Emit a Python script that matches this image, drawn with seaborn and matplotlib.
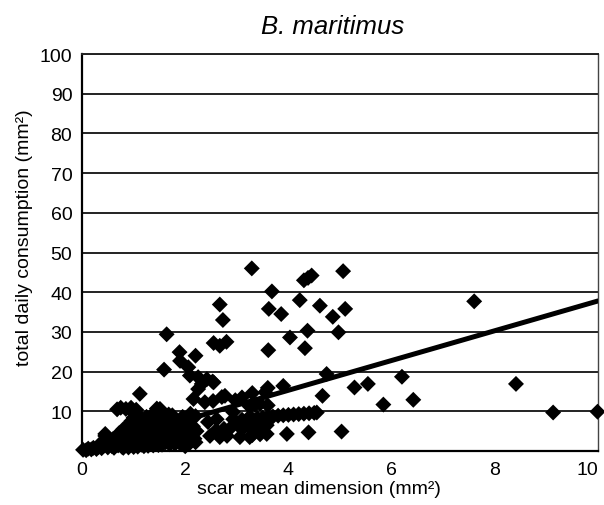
import numpy as np
import pandas as pd
import matplotlib
matplotlib.use("Agg")
import matplotlib.pyplot as plt
import seaborn as sns

# scar mean dimension (mm2) vs total daily consumption (mm2)
scar_sparse = [3.29, 3.68, 3.62, 3.86, 2.67, 2.73, 1.64, 2.55, 2.67, 2.80, 1.89, 1.90,
               2.20, 1.59, 2.06, 2.09, 2.25, 2.32, 2.53, 1.12, 3.61, 4.03, 4.22, 4.37,
               4.32, 4.30, 4.38, 4.45, 4.61, 4.86, 4.97, 5.06, 5.10, 4.74, 4.66, 5.03,
               4.39, 3.97, 3.58, 3.90, 3.55, 7.60, 8.41, 9.13, 9.99, 6.20, 6.42, 5.84,
               5.28, 5.54, 2.16, 2.25, 2.42, 2.55, 2.38, 2.54, 2.71, 2.77, 2.97, 3.10,
               3.30, 3.60, 1.51, 3.25, 3.35, 3.45]
cons_sparse = [46.0, 40.2, 35.8, 34.5, 36.9, 33.0, 29.4, 27.2, 26.5, 27.5, 24.9, 22.7,
               24.0, 20.5, 21.1, 19.0, 18.6, 16.9, 17.5, 14.4, 25.4, 28.6, 38.0, 30.3,
               25.9, 43.0, 43.6, 44.2, 36.6, 33.8, 29.9, 45.3, 35.8, 19.4, 13.9, 4.9,
               4.7, 4.3, 4.3, 16.4, 14.8, 37.7, 16.9, 9.7, 9.9, 18.7, 12.9, 11.7,
               16.0, 16.9, 13.1, 15.6, 18.1, 17.3, 12.3, 12.6, 13.6, 13.9, 12.8, 13.5,
               14.6, 15.9, 10.6, 11.2, 11.6, 11.9]

# the dense cluster close to the origin
scar_dense = [0.02, 0.08, 0.12, 0.18, 0.22, 0.28, 0.32, 0.38, 0.42, 0.45, 0.50, 0.50,
              0.55, 0.58, 0.60, 0.62, 0.65, 0.68, 0.70, 0.72, 0.75, 0.78, 0.80, 0.80,
              0.80, 0.85, 0.85, 0.90, 0.90, 0.90, 0.92, 0.95, 0.95, 0.98, 1.00, 1.00,
              1.00, 1.00, 1.02, 1.05, 1.05, 1.08, 1.10, 1.10, 1.10, 1.12, 1.15, 1.15,
              1.18, 1.20, 1.20, 1.20, 1.22, 1.25, 1.25, 1.28, 1.30, 1.30, 1.30, 1.32,
              1.35, 1.38, 1.40, 1.40, 1.40, 1.42, 1.45, 1.48, 1.50, 1.50, 1.50, 1.52,
              1.55, 1.58, 1.60, 1.60, 1.62, 1.65, 1.68, 1.70, 1.70, 1.72, 1.75, 1.78,
              1.80, 1.80, 1.82, 1.85, 1.88, 1.90, 1.90, 1.92, 1.95, 1.98, 2.00, 2.00,
              2.02, 2.05, 2.08, 2.10, 2.10, 2.12, 2.15, 2.18, 2.20, 2.20, 2.22, 0.68,
              0.75, 0.85, 0.95, 1.05, 1.00, 0.45, 0.40, 0.35, 1.45, 1.75,
              1.00, 1.20, 1.30, 1.50, 1.60, 1.40, 0.90, 1.10, 1.70, 1.90, 2.00, 1.25,
              1.55]
cons_dense = [0.3, 0.2, 0.6, 0.4, 0.8, 0.5, 1.0, 0.7, 1.3, 3.8, 0.9, 1.8,
              2.4, 1.2, 3.0, 0.8, 1.9, 2.8, 1.4, 4.5, 2.2, 1.0, 0.8, 3.2,
              5.5, 1.7, 4.2, 0.9, 2.7, 6.4, 1.9, 3.8, 7.5, 5.2, 1.0, 3.0,
              6.0, 8.4, 2.0, 4.4, 7.0, 1.1, 2.2, 5.5, 8.9, 3.4, 1.6, 6.8,
              4.6, 1.2, 3.6, 7.8, 2.4, 5.6, 8.6, 1.3, 2.6, 4.0, 6.5, 3.3,
              9.0, 1.4, 2.1, 4.8, 7.2, 5.9, 3.2, 1.5, 2.9, 4.5, 8.3, 6.4,
              1.6, 3.6, 5.0, 7.4, 2.2, 4.1, 9.2, 1.7, 6.0, 3.0, 8.1, 4.8,
              1.8, 5.6, 2.7, 7.0, 3.9, 1.9, 6.3, 4.6, 8.6, 2.8, 2.0, 5.2,
              3.4, 7.6, 1.9, 2.4, 9.4, 4.3, 6.2, 3.1, 2.2, 8.8, 5.0, 10.5,
              10.9, 10.6, 10.9, 10.4, 9.6, 4.3, 2.2, 1.8, 10.7, 9.0,
              5.8, 5.2, 4.6, 5.3, 4.0, 3.5, 4.6, 2.8, 2.4, 2.5, 1.2, 1.8,
              2.2]

# points on the low streaks between 2.4 and 4.6 mm2
scar_streak = [2.44, 2.61, 2.93, 2.93, 2.48, 2.67, 2.81, 3.06, 3.25, 3.25, 3.35, 3.06,
               3.15, 3.25, 3.35, 3.45, 3.58, 3.10, 3.20, 3.30, 3.40, 3.50, 3.60, 3.70,
               3.80, 3.90, 4.00, 4.10, 4.20, 4.30, 4.40, 4.50, 4.55, 2.60, 2.75, 2.90,
               3.30, 3.45, 3.60]
cons_streak = [7.3, 8.0, 9.8, 8.0, 3.8, 3.5, 3.8, 3.5, 3.5, 7.3, 6.8, 6.0,
               6.1, 6.2, 6.3, 6.4, 6.5, 7.9, 8.0, 8.1, 8.3, 8.4, 8.6, 8.7,
               8.9, 9.0, 9.1, 9.2, 9.3, 9.4, 9.5, 9.6, 9.7, 5.2, 5.6, 6.1,
               4.0, 4.2, 11.5]

# linear trend line shown on the chart
fit_slope = 3.75
fit_intercept = 0.3
fit_x = [0, 10]

df = pd.DataFrame({
    "scar": scar_sparse + scar_dense + scar_streak,
    "consumption": cons_sparse + cons_dense + cons_streak,
})
fit_df = pd.DataFrame({"scar": fit_x,
                       "consumption": [fit_intercept + fit_slope * v for v in fit_x]})

sns.set_style("white")
plt.rcParams["font.family"] = ["Liberation Sans", "DejaVu Sans"]
plt.rcParams["text.color"] = "black"
plt.rcParams["axes.labelcolor"] = "black"
plt.rcParams["xtick.color"] = "black"
plt.rcParams["ytick.color"] = "black"

fig = plt.figure(figsize=(6.04, 5.06), dpi=100)
ax = fig.add_axes([0.1358, 0.1067, 0.8543, 0.7846])

for g in range(10, 101, 10):
    ax.axhline(g, color="#222222", lw=1.4, zorder=1)

sns.scatterplot(data=df, x="scar", y="consumption", marker="D", s=66,
                color="black", edgecolor="none", linewidth=0, ax=ax,
                zorder=3, clip_on=False)
sns.lineplot(data=fit_df, x="scar", y="consumption", color="black", lw=3.6,
             ax=ax, zorder=4)

ax.set_xlim(0, 10)
ax.set_ylim(0, 100)
ax.set_xticks(range(0, 11, 2))
ax.set_yticks(range(10, 101, 10))
ax.tick_params(axis="both", direction="out", length=5, width=1.2,
               color="black", labelcolor="black", labelsize=14, pad=2)
# the last x label sits inside the figure edge, as in the original
ax.get_xticklabels()[-1].set_horizontalalignment("right")
ax.get_xticklabels()[-1].set_x(10)

for side in ["left", "bottom"]:
    ax.spines[side].set_color("black")
    ax.spines[side].set_linewidth(1.6)
ax.spines["right"].set_color("#444444")
ax.spines["right"].set_linewidth(1.0)
ax.spines["top"].set_color("#222222")
ax.spines["top"].set_linewidth(1.4)

ax.set_xlabel("scar mean dimension (mm²)", fontsize=14)
ax.set_ylabel("total daily consumption (mm²)", fontsize=14)
ax.xaxis.set_label_coords(0.46, -0.072)
ax.yaxis.set_label_coords(-0.095, 0.54)
ax.set_title("B. maritimus", fontsize=18.5, style="italic", pad=15, x=0.486)

plt.savefig("out.png", dpi=100)
